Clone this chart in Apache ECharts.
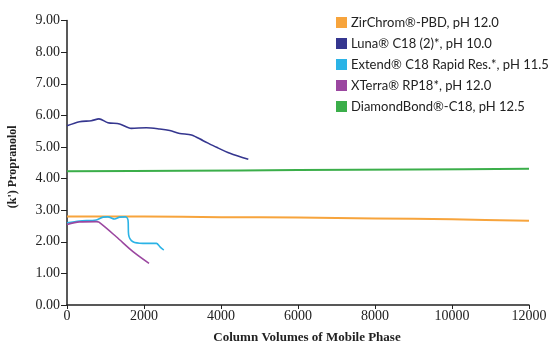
<!DOCTYPE html>
<html><head><meta charset="utf-8">
<script src="https://cdn.jsdelivr.net/npm/echarts@6/dist/echarts.min.js"></script>
<style>html,body{margin:0;padding:0;background:#fff}#c{width:551px;height:344px}</style>
</head><body><div id="c"></div>
<script>
const seriesNames = ["ZirChrom®-PBD, pH 12.0","Luna® C18 (2)*, pH 10.0","Extend® C18 Rapid Res.*, pH 11.5","XTerra® RP18*, pH 12.0","DiamondBond®-C18, pH 12.5"];
const colors = ["#f7a43c","#35368f","#2bb3e6","#9b47a0","#3bae4a"];
const zirchrom = [[0,2.80],[2000,2.80],[4000,2.78],[6000,2.77],[8000,2.74],[10000,2.71],[12000,2.67]];
const luna = [[0,5.67],[325,5.80],[630,5.83],[830,5.89],[1063,5.77],[1367,5.73],[1670,5.59],[2062,5.61],[2409,5.57],[2670,5.52],[2930,5.43],[3234,5.38],[3537,5.20],[3885,4.99],[4232,4.80],[4709,4.61]];
const extend = [[0,2.60],[325,2.66],[760,2.69],[933,2.78],[1063,2.79],[1237,2.72],[1367,2.78],[1523,2.79],[1584,2.69],[1601,2.22],[1714,2.00],[1974,1.95],[2323,1.95],[2409,1.85],[2513,1.74]];
const xterra = [[0,2.55],[325,2.63],[760,2.64],[830,2.62],[1280,2.16],[1714,1.69],[2130,1.32]];
const diamond = [[0,4.23],[3000,4.25],[6000,4.27],[9000,4.29],[12000,4.31]];
const seriesData = [zirchrom, luna, extend, xterra, diamond];
const widths = [2,1.6,1.6,1.6,2];

const chart = echarts.init(document.getElementById('c'));
const axisFont = {fontFamily:'Liberation Serif', fontSize:14, color:'#222'};
chart.setOption({
  animation:false,
  grid:{left:67,right:22,top:20.6,bottom:39,containLabel:false,outerBoundsMode:'none'},
  legend:{
    orient:'vertical', left:336, top:16, itemWidth:11, itemHeight:11, itemGap:8, padding:0,
    icon:'rect', backgroundColor:'#fff',
    textStyle:{fontFamily:'Lato', fontSize:13, color:'#222', padding:[0,0,0,-1]},
    data:seriesNames
  },
  xAxis:{
    type:'value', min:0, max:12000, interval:2000,
    name:'Column Volumes of Mobile Phase', nameLocation:'middle', nameGap:26,
    nameTextStyle:{fontFamily:'Liberation Serif', fontWeight:'bold', fontSize:13, color:'#222', padding:[0,0,0,18]},
    axisLine:{lineStyle:{color:'#222',width:1.5}},
    axisTick:{show:true,length:4,lineStyle:{color:'#222'}},
    axisLabel:Object.assign({margin:4,formatter:v=>String(v)},axisFont),
    splitLine:{show:false}
  },
  yAxis:{
    type:'value', min:0, max:9, interval:1,
    name:"(k') Propranolol", nameLocation:'middle', nameGap:48, nameRotate:90,
    nameTextStyle:{fontFamily:'Liberation Serif', fontWeight:'bold', fontSize:12, color:'#222', padding:[0,8,0,0]},
    axisLine:{show:true,lineStyle:{color:'#222',width:1.5}},
    axisTick:{show:true,length:6,lineStyle:{color:'#222'}},
    axisLabel:Object.assign({margin:7,formatter:v=>v.toFixed(2)},axisFont),
    splitLine:{show:false}
  },
  series: seriesNames.map((n,i)=>({
    name:n, type:'line', data:seriesData[i], showSymbol:false, symbol:'none',
    smooth:0.3, lineStyle:{color:colors[i],width:widths[i]}, itemStyle:{color:colors[i]}
  }))
});
</script></body></html>
